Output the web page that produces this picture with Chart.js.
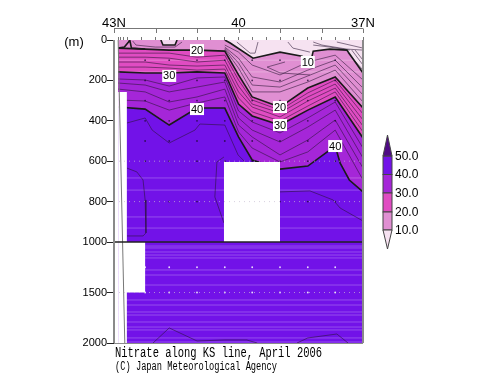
<!DOCTYPE html>
<html lang="en">
<head>
    <meta charset="UTF-8">
    <title>Nitrate along KS line, April 2006</title>
    <style>
        body { margin: 0; background: #fff; }
        canvas { display: block; }
    </style>
    <script src="https://cdn.jsdelivr.net/npm/chart.js"></script>
</head>
<body>
    <canvas id="grafico" width="500" height="387"></canvas>
    <script>
        // latitude of the columns every contour below is read at
        const gridLats = [42.9, 42.25, 41.67, 41.0, 40.33, 40.0, 39.67, 39.0, 38.33, 37.67, 37.0];

        // contour depths (m) along gridLats
        const c20 = [40, 45, 50, 50, 55, 173, 282, 332, 238, 183, 337];
        const c22 = [65, 65, 65, 85, 75, 198, 297, 347, 262, 198, 366];
        const c24 = [85, 85, 90, 109, 100, 228, 317, 361, 282, 218, 396];
        const c26 = [109, 109, 124, 129, 124, 257, 332, 381, 302, 238, 426];
        const c28 = [134, 134, 139, 149, 144, 287, 356, 401, 327, 257, 455];
        const c30 = [158, 163, 163, 158, 163, 317, 376, 421, 347, 282, 485];
        const c32 = [193, 198, 228, 188, 183, 351, 406, 460, 386, 307, 535];
        const c34 = [213, 223, 257, 233, 208, 386, 446, 505, 431, 347, 584];
        const c36 = [243, 257, 307, 282, 243, 421, 480, 569, 495, 396, 634];
        const c38 = [297, 302, 347, 312, 282, 455, 535, 604, 554, 446, 693];

        const c40Lats = [42.9, 42.25, 41.67, 41.0, 40.33, 40.0, 39.67, 39.0, 38.33, 37.67, 37.55, 37.33, 37.0];
        const c40 = [332, 342, 421, 337, 337, 480, 594, 639, 624, 525, 610, 693, 752];

        const c10Lats = [42.9, 40.33, 40.2, 39.65, 39.0, 38.47, 38.25, 38.2, 37.8, 37.39, 37.0];
        const c10 = [0, 0, 15, 90, 60, 80, 100, 55, 45, 50, 163];

        // 10-20 lines only exist east of 40.33N
        const upperLats = [40.33, 40.0, 39.67, 39.0, 38.33, 37.67, 37.0];
        const c12 = [25, 60, 124, 173, 109, 75, 198];
        const c14 = [35, 90, 183, 208, 149, 100, 238];
        const c16 = [40, 114, 223, 233, 178, 124, 272];
        const c18 = [45, 139, 257, 257, 208, 149, 307];

        // small closed pieces and deep 42 lines, as [lats, depths]
        const thinLines = [
            [[38.88, 39.31, 39.0, 38.28], [109, 134, 163, 173]],
            [[40.04, 39.72, 39.6, 39.53], [10, 65, 65, 10]],
            [[38.81, 38.69, 38.28], [10, 40, 60]],
            [[38.2, 37.99, 37.39, 37.0], [10, 25, 45, 50]],
            [[38.2, 37.8, 37.32], [25, 35, 50]],
            [[37.63, 37.0], [10, 40]],
            [[37.36, 37.0], [65, 149]],
            [[37.27, 37.0], [50, 124]],
            [[37.19, 37.0], [50, 100]],
            [[42.55, 42.47, 42.0, 41.53, 41.36], [5, 25, 35, 35, 10]],
            [[42.69, 42.45, 42.3, 42.25, 42.23, 42.3, 42.69], [634, 653, 693, 792, 955, 970, 970]],
            [[40.35, 40.52, 40.57, 40.35], [579, 604, 777, 906]],
            [[39.0, 38.28, 37.72, 37.55, 37.0], [752, 747, 792, 832, 896]],
            [[42.69, 42.25, 42.08, 41.67, 41.05, 40.93, 40.33, 40.01, 39.84], [411, 386, 446, 510, 446, 416, 421, 569, 604]],
            [[42.06, 41.67, 41.0, 40.33, 39.8, 39.55], [2000, 1851, 1980, 1970, 1970, 2000]],
            [[38.59, 38.33, 37.63, 37.36], [2000, 1950, 1911, 2000]]
        ];

        const spikeLats = [42.9, 42.75, 42.65, 42.62, 42.58, 42.25];
        const spikeDepths = [40, 35, 10, 0, 40, 45];
        const cupLats = [41.87, 41.82, 41.53, 41.48];
        const cupDepths = [0, 25, 25, 0];

        // areas without data
        const gapLeftLats = [42.9, 42.69, 42.69, 42.25, 42.25, 42.69, 42.69, 42.9];
        const gapLeftDepths = [257, 257, 1000, 1000, 1500, 1500, 2000, 2000];
        const gapMidLats = [40.35, 39.0, 39.0, 40.35];
        const gapMidDepths = [604, 604, 1000, 1000];
        const bottomLats = [42.9, 42.74];
        const bottomDepths = [0, 2000];

        const stationLats = [42.25, 41.67, 41.0, 40.33, 39.67, 39.0, 38.33, 37.67];
        const sampleDepths = [100, 200, 300, 400, 500, 600, 800];
        const deepSampleDepths = [1250, 1500];
        const dottedDepths = [600, 800, 1500];
        const stripeDepths = [100, 158, 683, 743, 876, 931, 1040, 1059, 1099, 1129, 1158, 1277, 1327, 1426,
            1574, 1624, 1693, 1723, 1792, 1842, 1871, 1950, 1990];

        const depthTicks = [0, 200, 400, 600, 800, 1000, 1500, 2000];
        const stationTicks = [42.9, 42.85, 42.77, 42.67, 42.33, 42, 41.67, 41.33, 41, 40.67, 40.33, 40, 39.67,
            39.33, 39, 38.67, 38.33, 38, 37.67, 37.33, 37];
        const degreeTicks = [43, 42, 41, 40, 39, 38, 37];
        const latLabels = [[43, "43N"], [40, "40"], [37, "37N"]];

        const labelTexts = ["20", "30", "40", "10", "20", "30", "40"];
        const labelLats = [41.0, 41.67, 41.0, 38.33, 39.0, 39.0, 37.67];
        const labelDepths = [50, 178, 342, 109, 332, 421, 525];

        const barLevels = ["50.0", "40.0", "30.0", "20.0", "10.0"];
        const colUnder = "#f6e2f1", col10 = "#e08fd2", col20 = "#e04cc2", col30 = "#a526d8", col40 = "#7212e8", colOver = "#4f0a85";

        // below 1000 m the axis is squeezed to half
        const toY = (d) => (d <= 1000 ? d : 1000 + (d - 1000) / 2);
        const fromY = (y) => (y <= 1000 ? y : 1000 + (y - 1000) * 2);
        const yMax = toY(2000);

        const pts = (lats, depths) => lats.map((lat, i) => ({ x: lat, y: toY(depths[i]) }));

        const datasets = [];
        function band(lats, depths, color) {
            datasets.push({ data: pts(lats, depths), fill: { value: yMax }, backgroundColor: color, borderWidth: 0, pointRadius: 0 });
        }
        function line(lats, depths, width, color, dash) {
            datasets.push({ data: pts(lats, depths), borderColor: color, borderWidth: width, borderDash: dash || [], pointRadius: 0 });
        }
        function patch(lats, depths, color) {
            datasets.push({ data: pts(lats, depths), fill: "shape", backgroundColor: color, borderWidth: 0, pointRadius: 0 });
        }
        function dots(lats, depths, color) {
            const d = [];
            depths.forEach((depth) => lats.forEach((lat) => d.push({ x: lat, y: toY(depth) })));
            datasets.push({ data: d, showLine: false, pointRadius: 0.9, pointBackgroundColor: color, pointBorderWidth: 0 });
        }

        // colour layers, shallow to deep
        band(gridLats, gridLats.map(() => 0), colUnder);
        band(c10Lats, c10, col10);
        band(gridLats, c20, col20);
        band(gridLats, c30, col30);
        band(c40Lats, c40, col40);
        patch(cupLats, cupDepths, "#f3d8ee");

        const dark = "#1a1a1a", thin = "rgba(40,20,50,0.7)";
        stripeDepths.forEach((d) => line([42.9, 37], [d, d], 1, "rgba(255,255,255,0.25)"));
        [c12, c14, c16, c18].forEach((c) => line(upperLats, c, 0.8, thin));
        [c22, c24, c26, c28, c32, c34, c36, c38].forEach((c) => line(gridLats, c, 0.8, thin));
        thinLines.forEach((l) => line(l[0], l[1], 0.8, thin));
        line(c10Lats.slice(1), c10.slice(1), 1.6, dark);
        line(gridLats, c20, 1.6, dark);
        line(gridLats, c30, 1.6, dark);
        line(c40Lats, c40, 1.6, dark);
        line(spikeLats, spikeDepths, 1.6, dark);
        line(cupLats, cupDepths, 1.6, dark);
        dots(stationLats, sampleDepths, "rgba(30,10,50,0.75)");
        dots(stationLats, deepSampleDepths, "rgba(255,255,255,0.85)");

        patch(gapLeftLats, gapLeftDepths, "#fff");
        patch(gapMidLats, gapMidDepths, "#fff");
        line(bottomLats, bottomDepths, 1, "#777");
        dottedDepths.forEach((d) => line([43, 37], [d, d], 1, "rgba(200,190,210,0.7)", [1, 4]));
        line([43, 37], [1000, 1000], 1.6, "#222");

        // first dataset is painted last
        datasets.reverse();

        const sans = "Liberation Sans, Arial, sans-serif";

        const extras = {
            id: "extras",
            afterDraw(chart) {
                const { ctx, chartArea: a, scales } = chart;
                ctx.save();

                // frame
                ctx.strokeStyle = "#8a8a8a";
                ctx.lineWidth = 2;
                ctx.beginPath();
                ctx.moveTo(a.left, a.top);
                ctx.lineTo(a.left, a.bottom);
                ctx.moveTo(a.right, a.top);
                ctx.lineTo(a.right, a.bottom);
                ctx.stroke();
                ctx.lineWidth = 1;
                ctx.beginPath();
                ctx.moveTo(a.left, a.bottom + 0.5);
                ctx.lineTo(a.right, a.bottom + 0.5);
                ctx.stroke();

                // outer latitude row
                ctx.strokeStyle = "#777";
                ctx.beginPath();
                ctx.moveTo(a.left, 28.5);
                ctx.lineTo(a.right, 28.5);
                degreeTicks.forEach((lat) => {
                    const x = Math.round(scales.x.getPixelForValue(lat)) + 0.5;
                    ctx.moveTo(x, 28.5);
                    ctx.lineTo(x, 33);
                });
                ctx.stroke();

                ctx.fillStyle = "#000";
                ctx.textBaseline = "middle";
                ctx.textAlign = "center";
                ctx.font = "13px " + sans;
                latLabels.forEach((l) => ctx.fillText(l[1], scales.x.getPixelForValue(l[0]), 23));
                ctx.fillText("(m)", 74, 42);

                // contour labels
                ctx.font = "11px " + sans;
                labelTexts.forEach((t, i) => {
                    const x = scales.x.getPixelForValue(labelLats[i]);
                    const y = scales.y.getPixelForValue(toY(labelDepths[i]));
                    ctx.fillStyle = "#fff";
                    ctx.fillRect(x - 7, y - 6, 14, 12);
                    ctx.fillStyle = "#000";
                    ctx.fillText(t, x, y + 0.5);
                });

                // colour bar
                const bx0 = 383, bx1 = 392, bm = 387.5;
                const by = [156, 174.5, 193, 212, 230];
                const fills = [col40, col30, col20, col10];
                ctx.strokeStyle = "#444";
                ctx.lineWidth = 1;
                fills.forEach((c, i) => {
                    ctx.fillStyle = c;
                    ctx.fillRect(bx0, by[i], bx1 - bx0, by[i + 1] - by[i]);
                    ctx.strokeRect(bx0, by[i], bx1 - bx0, by[i + 1] - by[i]);
                });
                [[135, 156, colOver], [249, 230, colUnder]].forEach((t) => {
                    ctx.fillStyle = t[2];
                    ctx.beginPath();
                    ctx.moveTo(bm, t[0]);
                    ctx.lineTo(bx1, t[1]);
                    ctx.lineTo(bx0, t[1]);
                    ctx.closePath();
                    ctx.fill();
                    ctx.stroke();
                });
                ctx.fillStyle = "#000";
                ctx.textAlign = "left";
                ctx.font = "12px " + sans;
                barLevels.forEach((t, i) => ctx.fillText(t, 395, by[i] + 0.5));

                // captions
                ctx.font = "14px Liberation Mono, DejaVu Sans Mono, monospace";
                ctx.fillText("Nitrate along KS line, April 2006", 115, 353, 207);
                ctx.font = "12px Liberation Mono, DejaVu Sans Mono, monospace";
                ctx.fillText("(C) Japan Meteorological Agency", 115, 367, 162);

                ctx.restore();
            },
        };

        new Chart(document.getElementById("grafico"), {
            type: "scatter",
            data: { datasets },
            plugins: [extras],
            options: {
                responsive: false,
                animation: false,
                layout: { padding: { top: 37, right: 137, bottom: 44, left: 0 } },
                datasets: { scatter: { showLine: true, tension: 0 } },
                plugins: { legend: { display: false }, tooltip: { enabled: false } },
                scales: {
                    x: {
                        type: "linear",
                        position: "top",
                        reverse: true,
                        min: 37,
                        max: 43,
                        afterBuildTicks: (axis) => { axis.ticks = stationTicks.map((v) => ({ value: v })); },
                        afterFit: (axis) => { axis.height = 3; },
                        ticks: { display: false },
                        border: { display: false },
                        grid: { drawOnChartArea: false, tickLength: 3, color: "#777", tickColor: "#777" },
                    },
                    y: {
                        type: "linear",
                        reverse: true,
                        min: 0,
                        max: yMax,
                        afterBuildTicks: (axis) => { axis.ticks = depthTicks.map((d) => ({ value: toY(d) })); },
                        afterFit: (axis) => { axis.width = 114; },
                        border: { display: false },
                        grid: { drawOnChartArea: false, tickLength: 7, tickColor: "#222" },
                        ticks: {
                            padding: 0,
                            color: "#000",
                            font: { family: sans, size: 11 },
                            callback: (v) => String(Math.round(fromY(v))),
                        },
                    },
                },
            },
        });
    </script>
</body>
</html>
